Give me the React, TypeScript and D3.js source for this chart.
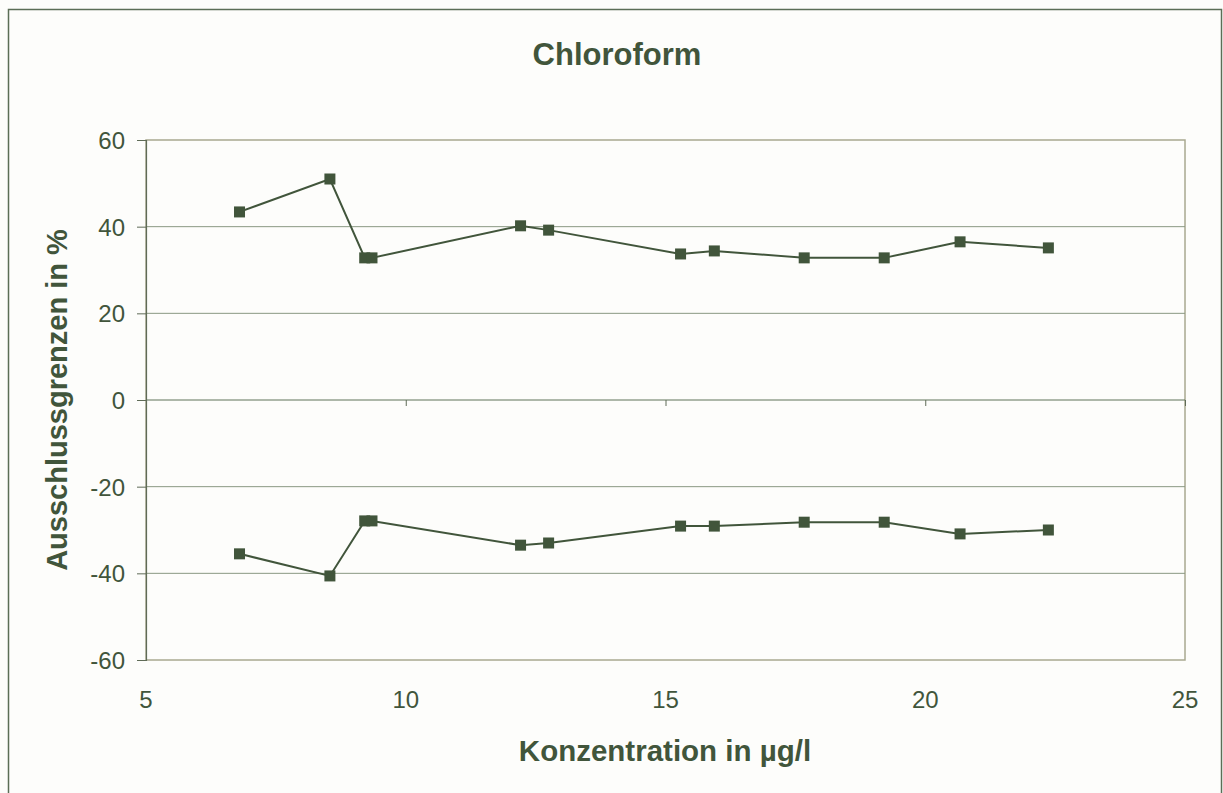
import React, { useEffect, useRef } from 'react';
import * as d3 from 'd3';

// Konzentration in µg/l
const concentrations = [6.8, 8.54, 9.21, 9.35, 12.21, 12.75, 15.29, 15.94, 17.67, 19.21, 20.67, 22.37];
// upper and lower limits in %
const upperLimits = [43.4, 51.0, 32.8, 32.8, 40.2, 39.2, 33.7, 34.4, 32.8, 32.8, 36.5, 35.1];
const lowerLimits = [-35.5, -40.6, -27.9, -27.9, -33.5, -33.0, -29.1, -29.1, -28.2, -28.2, -30.9, -30.0];
const xTicks = [5, 10, 15, 20, 25];
const yTicks = [-60, -40, -20, 0, 20, 40, 60];

const App = () => {
  const chartRef = useRef<SVGSVGElement>(null);

  useEffect(() => {
    const svg = d3.select(chartRef.current);
    svg.selectAll('*').remove();

    const width = 1223;
    const height = 793;
    const margin = { top: 140, right: 38, bottom: 133, left: 146 };
    const ink = '#41553b';
    const font = 'Arial, "Liberation Sans", sans-serif';

    svg.append('rect').attr('width', width).attr('height', height).attr('fill', '#fdfdfb');
    // outer frame
    svg
      .append('rect')
      .attr('x', 8.5)
      .attr('y', 9.5)
      .attr('width', 1213)
      .attr('height', 800)
      .attr('fill', 'none')
      .attr('stroke', '#5b6e56')
      .attr('stroke-width', 1.5);

    const xScale = d3.scaleLinear().domain([5, 25]).range([margin.left, width - margin.right]);
    const yScale = d3.scaleLinear().domain([-60, 60]).range([height - margin.bottom, margin.top]);

    // plot border
    svg
      .append('rect')
      .attr('x', xScale(5))
      .attr('y', yScale(60))
      .attr('width', xScale(25) - xScale(5))
      .attr('height', yScale(-60) - yScale(60))
      .attr('fill', 'none')
      .attr('stroke', '#a8a890')
      .attr('stroke-width', 1.5);

    // gridlines
    svg
      .selectAll('.grid')
      .data(yTicks.filter((t) => t !== 60 && t !== -60))
      .join('line')
      .attr('x1', xScale(5))
      .attr('x2', xScale(25))
      .attr('y1', (d) => yScale(d))
      .attr('y2', (d) => yScale(d))
      .attr('stroke', (d) => (d === 0 ? '#5f7359' : '#8a9883'))
      .attr('stroke-width', 1);

    // Y axis
    const yAxis = svg
      .append('g')
      .attr('transform', `translate(${xScale(5)},0)`)
      .call(
        d3
          .axisLeft(yScale)
          .tickValues(yTicks)
          .tickSize(9)
          .tickPadding(12)
          .tickFormat((d) => String(d))
      );
    yAxis.select('.domain').attr('stroke', '#5f6b57').attr('stroke-width', 1.2);
    yAxis.selectAll('.tick line').attr('stroke', '#5f6b57');
    yAxis
      .selectAll('text')
      .attr('font-size', 24)
      .attr('font-family', font)
      .attr('fill', ink)
      .attr('dy', '0.35em');
    yAxis.attr('font-size', 24);

    // X axis at zero, labels at bottom
    const xAxis = svg
      .append('g')
      .attr('transform', `translate(0,${yScale(0)})`)
      .call(d3.axisBottom(xScale).tickValues(xTicks).tickSize(6).tickFormat(() => ''));
    xAxis.select('.domain').remove();
    xAxis.selectAll('.tick line').attr('stroke', '#5f6b57');

    svg
      .selectAll('.xlabel')
      .data(xTicks)
      .join('text')
      .attr('x', (d) => xScale(d))
      .attr('y', yScale(-60) + 48)
      .attr('text-anchor', 'middle')
      .attr('font-size', 24)
      .attr('font-family', font)
      .attr('fill', ink)
      .text((d) => d);

    const points = (vals: number[]) => concentrations.map((c, i) => [c, vals[i]] as [number, number]);
    const line = d3
      .line<[number, number]>()
      .x((d) => xScale(d[0]))
      .y((d) => yScale(d[1]));

    [upperLimits, lowerLimits].forEach((vals) => {
      const pts = points(vals);
      svg
        .append('path')
        .datum(pts)
        .attr('d', line)
        .attr('fill', 'none')
        .attr('stroke', ink)
        .attr('stroke-width', 2);
      svg
        .append('g')
        .selectAll('rect')
        .data(pts)
        .join('rect')
        .attr('x', (d) => xScale(d[0]) - 5.5)
        .attr('y', (d) => yScale(d[1]) - 5.5)
        .attr('width', 11)
        .attr('height', 11)
        .attr('fill', ink);
    });

    // title and axis titles
    svg
      .append('text')
      .attr('x', 617)
      .attr('y', 65)
      .attr('text-anchor', 'middle')
      .attr('font-size', 31)
      .attr('font-weight', 'bold')
      .attr('font-family', font)
      .attr('fill', ink)
      .text('Chloroform');

    svg
      .append('text')
      .attr('x', 665)
      .attr('y', 761)
      .attr('text-anchor', 'middle')
      .attr('font-size', 29.5)
      .attr('font-weight', 'bold')
      .attr('font-family', font)
      .attr('fill', ink)
      .text('Konzentration in µg/l');

    svg
      .append('text')
      .attr('transform', `translate(67,400) rotate(-90)`)
      .attr('text-anchor', 'middle')
      .attr('font-size', 29)
      .attr('font-weight', 'bold')
      .attr('font-family', font)
      .attr('fill', ink)
      .text('Ausschlussgrenzen in %');
  }, []);

  return (
    <svg
      ref={chartRef}
      width={1223}
      height={793}
      style={{ position: 'absolute', left: 0, top: 0, display: 'block' }}
    ></svg>
  );
};

export default App;
